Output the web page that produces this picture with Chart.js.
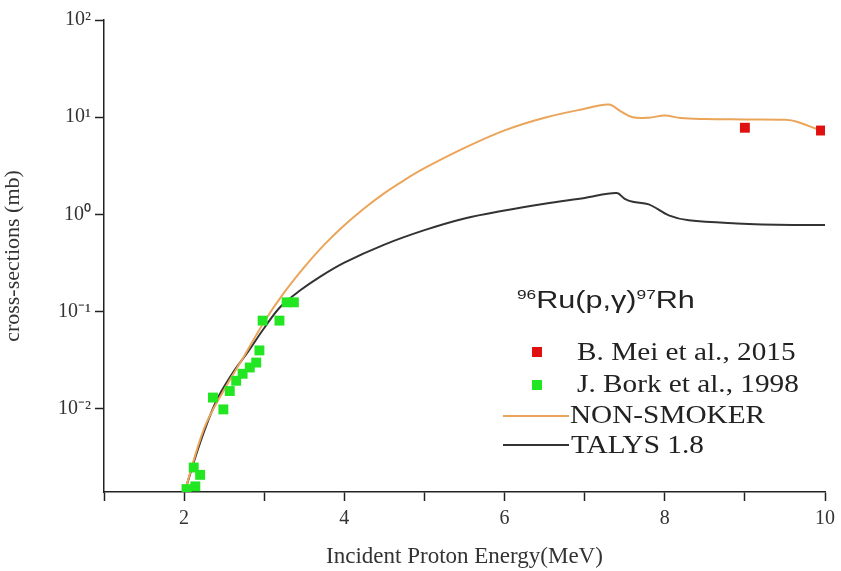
<!DOCTYPE html>
<html>
<head>
<meta charset="utf-8">
<script src="https://cdn.jsdelivr.net/npm/chart.js@4"></script>
<style>
  body { margin: 0; background: #fff; }
  #wrap { position: relative; width: 841px; height: 571px; }
  #legend { position: absolute; left: 0; top: 0; width: 841px; height: 571px; pointer-events: none; }
  .ttl { position: absolute; left: 517px; top: 287px; font-family: Arial, "Liberation Sans", sans-serif; font-size: 23px; color: #222; transform: scaleX(1.33); transform-origin: left center; white-space: nowrap; }
  .ttl sup { font-size: 13px; vertical-align: 9px; }
  .row { position: absolute; font-family: "Liberation Serif", "Times New Roman", serif; font-size: 25px; color: #222; transform: scaleX(1.17); transform-origin: left center; white-space: nowrap; line-height: 28px; }
  .mk { position: absolute; width: 10px; height: 10px; }
  .ln { position: absolute; height: 2px; width: 66px; left: 503px; }
</style>
</head>
<body>
<div id="wrap">
  <canvas id="lienzo" width="841" height="571"></canvas>
  <div id="legend">
    <div class="ttl"><sup>96</sup>Ru(p,γ)<sup>97</sup>Rh</div>
    <div class="mk" style="left:532px; top:347px; background:#e01010"></div>
    <div class="row" style="left:577px; top:338px">B. Mei et al., 2015</div>
    <div class="mk" style="left:532px; top:380px; background:#22e622"></div>
    <div class="row" style="left:577px; top:370px">J. Bork et al., 1998</div>
    <div class="ln" style="top:415px; background:#eba55a"></div>
    <div class="row" style="left:570px; top:401px">NON-SMOKER</div>
    <div class="ln" style="top:444px; background:#333"></div>
    <div class="row" style="left:571px; top:431px">TALYS 1.8</div>
  </div>
</div>
<script>
// energia en MeV, seccion eficaz en mb
const meiE = [9.0, 9.95]
const meiS = [7.8, 7.3]

const borkE = [2.03, 2.12, 2.2, 2.14, 2.36, 2.49, 2.57, 2.65, 2.73, 2.82, 2.9, 2.94, 2.98, 3.19, 3.28, 3.37]
const borkS = [0.0015, 0.0025, 0.0021, 0.0016, 0.0131, 0.0099, 0.0153, 0.0195, 0.023, 0.0267, 0.030, 0.040, 0.081, 0.081, 0.125, 0.125]

const nsE = [2.0, 2.25, 2.5, 2.75, 3.0, 3.25, 3.5, 3.75, 4.0, 4.25, 4.5, 4.75, 5.0, 5.5, 6.0, 6.5, 7.0, 7.3, 7.45, 7.6, 7.8, 8.0, 8.2, 8.5, 9.0, 9.5, 9.65, 10.0]
const nsS = [0.00135, 0.0063, 0.0158, 0.035, 0.079, 0.158, 0.288, 0.49, 0.776, 1.16, 1.66, 2.26, 2.99, 4.84, 7.33, 9.9, 12.2, 13.5, 11.5, 10.0, 9.9, 10.4, 9.8, 9.6, 9.5, 9.4, 9.0, 7.0]

const talysE = [2.0, 2.2, 2.4, 2.6, 2.8, 3.0, 3.2, 3.45, 3.7, 4.0, 4.5, 5.0, 5.5, 6.0, 6.5, 7.0, 7.4, 7.5, 7.6, 7.8, 8.05, 8.3, 8.9, 9.6, 10.0]
const talysS = [0.00135, 0.0045, 0.012, 0.023, 0.039, 0.068, 0.112, 0.166, 0.23, 0.32, 0.49, 0.69, 0.91, 1.10, 1.29, 1.48, 1.66, 1.45, 1.35, 1.27, 0.98, 0.87, 0.81, 0.78, 0.78]

const yTicks = [0.01, 0.1, 1, 10, 100]
const yTickLabels = ['10⁻²', '10⁻¹', '10⁰', '10¹', '10²']

const pares = (xs, ys) => xs.map((x, i) => ({x: x, y: ys[i]}))

const serif = '"Liberation Serif", "Times New Roman", serif'

new Chart(document.getElementById('lienzo'), {
    type: 'scatter',
    data: {
        datasets: [
            {
                label: 'B. Mei et al., 2015',
                data: pares(meiE, meiS),
                pointStyle: 'rect',
                pointRadius: 7,
                borderWidth: 0,
                backgroundColor: '#e01010'
            },
            {
                label: 'J. Bork et al., 1998',
                data: pares(borkE, borkS),
                pointStyle: 'rect',
                pointRadius: 7,
                borderWidth: 0,
                backgroundColor: '#22e622'
            },
            {
                label: 'NON-SMOKER',
                data: pares(nsE, nsS),
                showLine: true,
                pointRadius: 0,
                borderColor: '#eba55a',
                borderWidth: 2,
                tension: 0.35
            },
            {
                label: 'TALYS 1.8',
                data: pares(talysE, talysS),
                showLine: true,
                pointRadius: 0,
                borderColor: '#333',
                borderWidth: 2,
                tension: 0.35
            }
        ]
    },
    options: {
        responsive: false,
        animation: false,
        layout: {padding: {top: 20, right: 14, left: 0, bottom: 0}},
        plugins: {
            legend: {display: false},
            tooltip: {enabled: false}
        },
        scales: {
            x: {
                type: 'linear',
                min: 1,
                max: 10,
                afterFit: (s) => { s.height = 79 },
                border: {display: true, color: '#222', width: 1.5},
                grid: {drawOnChartArea: false, tickLength: 9, tickColor: '#222', tickWidth: 1.5},
                ticks: {
                    stepSize: 1,
                    autoSkip: false,
                    maxRotation: 0,
                    padding: 6,
                    color: '#333',
                    font: {family: serif, size: 20},
                    callback: (v) => v % 2 === 0 ? String(v) : ''
                },
                title: {
                    display: true,
                    text: 'Incident Proton Energy(MeV)',
                    color: '#333',
                    font: {family: serif, size: 23},
                    padding: {top: 0, bottom: 0}
                }
            },
            y: {
                type: 'logarithmic',
                min: 0.0014,
                max: 100,
                afterFit: (s) => { s.width = 104 },
                afterBuildTicks: (s) => { s.ticks = yTicks.map(v => ({value: v})) },
                border: {display: true, color: '#222', width: 1.5},
                grid: {drawOnChartArea: false, tickLength: 9, tickColor: '#222', tickWidth: 1.5},
                ticks: {
                    autoSkip: false,
                    padding: 4,
                    color: '#333',
                    font: {family: serif, size: 20},
                    callback: (v) => {
                        const i = yTicks.indexOf(v)
                        return i >= 0 ? yTickLabels[i] : ''
                    }
                },
                title: {
                    display: true,
                    text: 'cross-sections (mb)',
                    color: '#333',
                    font: {family: serif, size: 22},
                    padding: {top: 0, bottom: 6}
                }
            }
        }
    }
})
</script>
</body>
</html>
